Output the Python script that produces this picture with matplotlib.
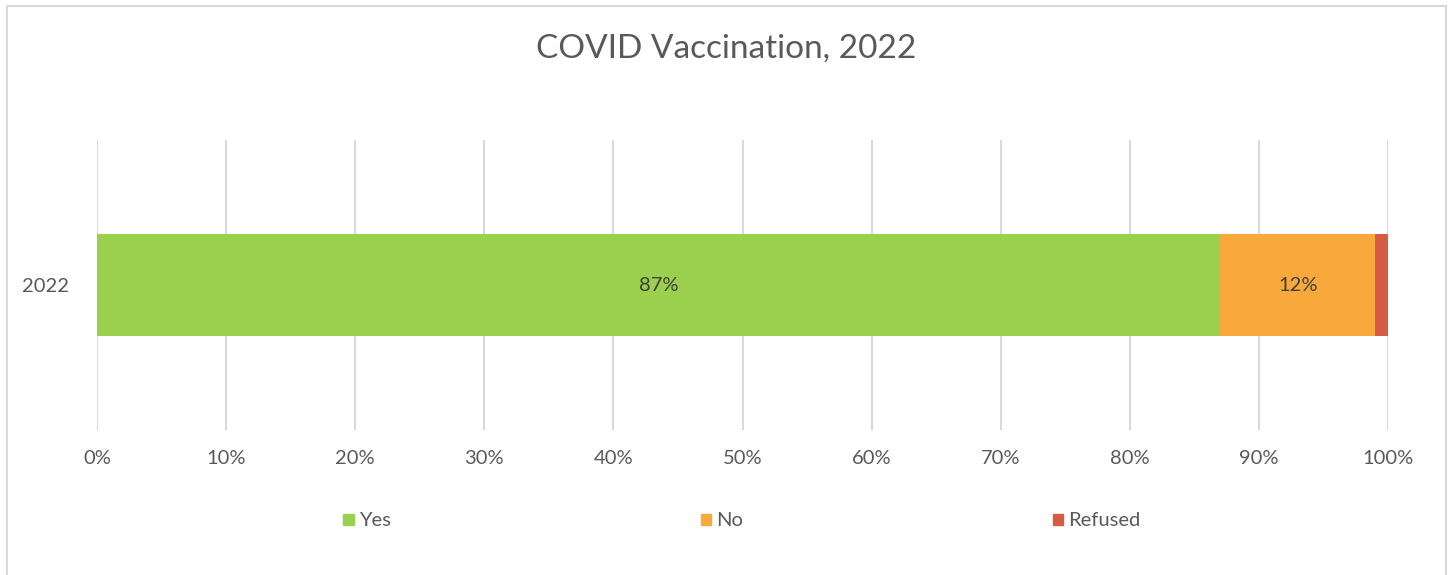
import numpy as np
import matplotlib
matplotlib.use("Agg")
import matplotlib.pyplot as plt
import matplotlib.patches as mpatches

plt.rcParams["font.family"] = ["Lato", "DejaVu Sans"]

# ── data ──────────────────────────────────────────────────────────────────────
CATEGORIES = ["2022"]
SERIES = ["Yes", "No", "Refused"]
YES = [87]
NO = [12]
REFUSED = [1]
SHOW_LABEL = [True, True, False]
COLORS = ["#9BCF4E", "#F9A93C", "#D75B43"]
XTICKS = [0, 10, 20, 30, 40, 50, 60, 70, 80, 90, 100]

TEXT = "#595959"
GRID = "#D9D9D9"

fig = plt.figure(figsize=(14.53, 5.75), dpi=100)
ax = fig.add_axes([0.0668, 0.252, 0.8885, 0.5045])

y = np.arange(len(CATEGORIES))
left = np.zeros(len(CATEGORIES))
for name, vals, col, show in zip(SERIES, [YES, NO, REFUSED], COLORS, SHOW_LABEL):
    bars = ax.barh(y, vals, left=left, height=0.352, color=col, label=name, zorder=3)
    if show:
        for b, v in zip(bars, vals):
            ax.text(b.get_x() + b.get_width() / 2, b.get_y() + b.get_height() / 2,
                    f"{v}%", ha="center", va="center", fontsize=14.5, color="#404040", zorder=4)
    left += np.array(vals)

ax.set_xlim(0, 100)
ax.set_ylim(-0.5, 0.5)
ax.set_xticks(XTICKS)
ax.set_xticklabels([f"{t}%" for t in XTICKS], fontsize=14.5, color=TEXT)
ax.set_yticks(y)
ax.set_yticklabels(CATEGORIES, fontsize=14.5, color=TEXT)
ax.tick_params(length=0, pad=14)
ax.tick_params(axis="y", pad=20)
ax.grid(axis="x", color=GRID, linewidth=1.5, zorder=0)
for s in ax.spines.values():
    s.set_visible(False)

fig.text(0.5, 0.915, "COVID Vaccination, 2022", ha="center", va="center",
         fontsize=24, color=TEXT)

handles = [mpatches.Patch(color=c, label=s) for s, c in zip(SERIES, COLORS)]
fig.legend(handles=handles, loc="center", bbox_to_anchor=(0.5105, 0.094), ncol=3,
           frameon=False, fontsize=14.5, handlelength=0.5, handleheight=0.5,
           handletextpad=0.25, columnspacing=15.4, labelcolor=TEXT)

# chart-area border
fig.patches.append(mpatches.Rectangle((0.0045, -0.02), 0.991, 1.009,
                                      transform=fig.transFigure, fill=False,
                                      edgecolor=GRID, linewidth=1.5))

fig.savefig("out.png", dpi=100)
